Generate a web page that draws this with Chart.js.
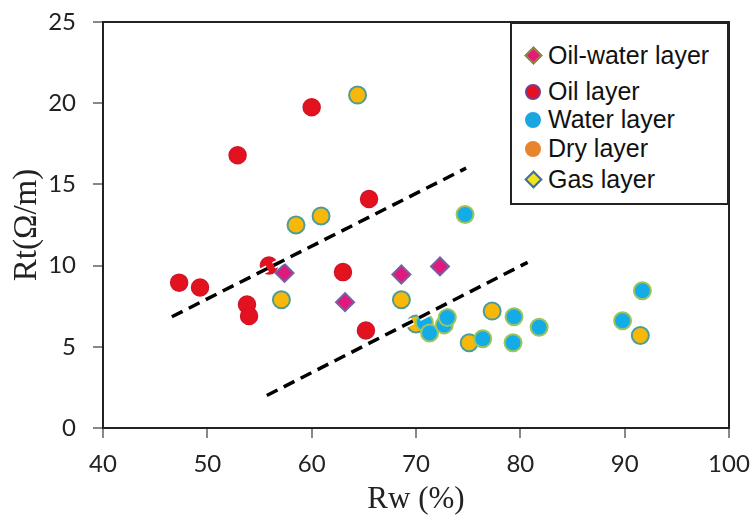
<!DOCTYPE html>
<html>
<head>
<meta charset="utf-8">
<script src="https://cdn.jsdelivr.net/npm/chart.js@4.4.0/dist/chart.umd.min.js"></script>
<style>
    html, body { margin: 0; padding: 0; background: #fff; }
    #wrap { position: relative; width: 751px; height: 517px; }
    #legend {
        position: absolute; left: 510px; top: 22px; width: 215px; height: 179px;
        border: 2px solid #222; box-sizing: content-box; background: #fff;
        font-family: "Liberation Sans", Arial, sans-serif; font-size: 25px; color: #111;
    }
    .row { position: absolute; left: 0; height: 29px; line-height: 29px; white-space: nowrap; }
    .row span.txt { position: absolute; left: 36px; top: 0; }
    .mk { position: absolute; box-sizing: border-box; }
    .mk.circle { width: 16px; height: 16px; border-radius: 50%; left: 13px; top: 7px; }
    .mk.diamond { width: 13px; height: 13px; left: 15px; top: 8px; transform: rotate(45deg); }
</style>
</head>
<body>
<div id="wrap">
    <canvas id="scatterChart" width="751" height="517"></canvas>
    <div id="legend"></div>
</div>
<script>
// series names
const seriesNames = ["Oil-water layer", "Oil layer", "Water layer", "Dry layer", "Gas layer"];

// Oil-water layer
const oilWaterX = [57.4, 63.2, 68.6, 72.3];
const oilWaterY = [9.55, 7.75, 9.45, 9.95];

// Oil layer
const oilX = [47.3, 49.3, 52.9, 53.8, 54.0, 55.9, 60.0, 63.0, 65.5, 65.2];
const oilY = [8.95, 8.65, 16.8, 7.6, 6.9, 10.0, 19.75, 9.6, 14.1, 6.0];

// Water layer
const waterX = [74.7, 70.8, 71.3, 72.7, 73.0, 76.4, 79.4, 79.3, 81.8, 89.8, 91.7];
const waterY = [13.15, 6.5, 5.85, 6.35, 6.8, 5.5, 6.85, 5.25, 6.2, 6.6, 8.45];

// Dry layer
const dryX = [64.4, 58.5, 60.9, 57.1, 68.6, 70.0, 77.3, 75.1, 91.5];
const dryY = [20.5, 12.5, 13.05, 7.9, 7.9, 6.4, 7.2, 5.25, 5.7];

// Gas layer (none visible in the plot)
const gasX = [];
const gasY = [];

// dashed boundary lines (x, y of the two ends)
const upperLineX = [46.6, 74.8];
const upperLineY = [6.85, 16.0];
const lowerLineX = [55.7, 80.7];
const lowerLineY = [2.0, 10.2];

// axis ticks
const xTicks = [40, 50, 60, 70, 80, 90, 100];
const yTicks = [0, 5, 10, 15, 20, 25];

function toPoints(xs, ys) {
    return xs.map((x, i) => ({ x: x, y: ys[i] }));
}

function lineSet(xs, ys, color, width, order) {
    return {
        type: "line",
        data: toPoints(xs, ys),
        borderColor: color,
        borderWidth: width,
        borderDash: [12, 7],
        pointRadius: 0,
        fill: false,
        order: order,
    };
}

const legendStyles = [
    { shape: "diamond", fill: "#E5197A", border: "#8C8A3A" },
    { shape: "circle", fill: "#E8101E", border: "#7A3C8C" },
    { shape: "circle", fill: "#1BA6DF", border: "#1BA6DF" },
    { shape: "circle", fill: "#E8842C", border: "#E8842C" },
    { shape: "diamond", fill: "#F2E31A", border: "#3C6EA8" },
];

// build html legend
const legendEl = document.getElementById("legend");
const rowTops = [17, 53, 81, 110, 141];
seriesNames.forEach((name, i) => {
    const st = legendStyles[i];
    const row = document.createElement("div");
    row.className = "row";
    row.style.top = rowTops[i] + "px";
    const mk = document.createElement("div");
    mk.className = "mk " + st.shape;
    mk.style.background = st.fill;
    mk.style.border = "2px solid " + st.border;
    const txt = document.createElement("span");
    txt.className = "txt";
    txt.textContent = name;
    row.appendChild(mk);
    row.appendChild(txt);
    legendEl.appendChild(row);
});

// top and right frame of the plot
const framePlugin = {
    id: "frame",
    afterDraw: function (chart) {
        const a = chart.chartArea;
        const ctx = chart.ctx;
        ctx.save();
        ctx.strokeStyle = "#222";
        ctx.lineWidth = 2;
        ctx.beginPath();
        ctx.moveTo(a.left, a.top);
        ctx.lineTo(a.right, a.top);
        ctx.lineTo(a.right, a.bottom);
        ctx.stroke();
        ctx.restore();
    },
};

// fixed axis sizes, no label overhang padding
function fixScale(size) {
    return function (scale) {
        if (scale.isHorizontal()) {
            scale.height = size;
        } else {
            scale.width = size;
        }
        scale.paddingTop = 0;
        scale.paddingBottom = 0;
        scale.paddingLeft = 0;
        scale.paddingRight = 0;
    };
}

const ctx = document.getElementById("scatterChart").getContext("2d");
const chart = new Chart(ctx, {
    type: "scatter",
    data: {
        datasets: [
            {
                label: seriesNames[0],
                data: toPoints(oilWaterX, oilWaterY),
                pointStyle: "rectRot",
                pointRadius: 9,
                backgroundColor: "#E0197C",
                borderColor: "#7262A6",
                borderWidth: 2,
                order: 1,
            },
            {
                label: seriesNames[1],
                data: toPoints(oilX, oilY),
                pointRadius: 8.5,
                backgroundColor: "#E3121E",
                borderColor: "#D0152A",
                borderWidth: 1.5,
                order: 2,
            },
            {
                label: seriesNames[2],
                data: toPoints(waterX, waterY),
                pointRadius: 8.5,
                backgroundColor: "#14ACE6",
                borderColor: "#9EC45A",
                borderWidth: 2,
                order: 3,
            },
            {
                label: seriesNames[3],
                data: toPoints(dryX, dryY),
                pointRadius: 8.5,
                backgroundColor: "#F8B80A",
                borderColor: "#4E9C98",
                borderWidth: 2,
                order: 4,
            },
            {
                label: seriesNames[4],
                data: toPoints(gasX, gasY),
                pointStyle: "rectRot",
                pointRadius: 9,
                backgroundColor: "#F2E31A",
                borderColor: "#3C6EA8",
                borderWidth: 2,
                order: 5,
            },
            lineSet(upperLineX, upperLineY, "#ffffff", 7, 0),
            lineSet(upperLineX, upperLineY, "#000000", 3.5, -1),
            lineSet(lowerLineX, lowerLineY, "#ffffff", 7, 0),
            lineSet(lowerLineX, lowerLineY, "#000000", 3.5, -1),
        ],
    },
    options: {
        responsive: false,
        animation: false,
        layout: { padding: { top: 22, right: 22, left: 0, bottom: 0 } },
        plugins: {
            legend: { display: false },
            tooltip: { enabled: false },
        },
        scales: {
            x: {
                type: "linear",
                min: 40,
                max: 100,
                afterBuildTicks: function (scale) {
                    scale.ticks = xTicks.map(v => ({ value: v }));
                },
                afterFit: fixScale(89),
                ticks: {
                    color: "#222",
                    padding: 12,
                    font: { family: "Lato", size: 24 },
                },
                grid: {
                    drawOnChartArea: false,
                    drawTicks: true,
                    tickLength: 10,
                    color: "#888",
                    lineWidth: 2,
                },
                border: { color: "#222", width: 2 },
                title: {
                    display: true,
                    text: "Rw (%)",
                    color: "#222",
                    font: { family: "Liberation Serif", size: 31, lineHeight: 1 },
                    padding: { top: 0, bottom: 2 },
                },
            },
            y: {
                type: "linear",
                min: 0,
                max: 25,
                afterBuildTicks: function (scale) {
                    scale.ticks = yTicks.map(v => ({ value: v }));
                },
                afterFit: fixScale(103),
                ticks: {
                    color: "#222",
                    padding: 17,
                    font: { family: "Lato", size: 24 },
                },
                grid: {
                    drawOnChartArea: false,
                    drawTicks: true,
                    tickLength: 10,
                    color: "#888",
                    lineWidth: 2,
                },
                border: { color: "#222", width: 2 },
                title: {
                    display: true,
                    text: "Rt(Ω/m)",
                    color: "#222",
                    font: { family: "Liberation Serif", size: 33, lineHeight: 1.2 },
                    padding: { top: 8, bottom: 0 },
                },
            },
        },
    },
    plugins: [framePlugin],
});
</script>
</body>
</html>
